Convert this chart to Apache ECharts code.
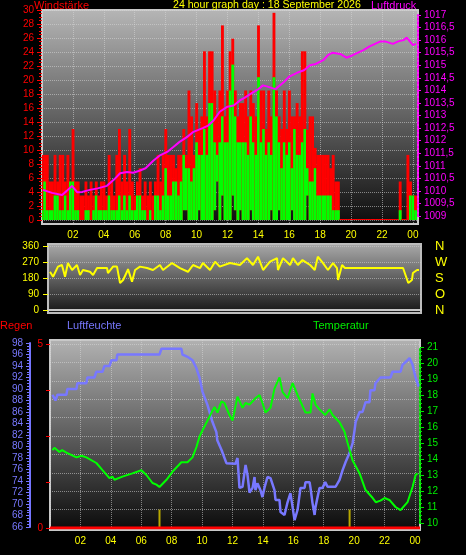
<!DOCTYPE html>
<html><head><meta charset="utf-8">
<script src="https://cdn.jsdelivr.net/npm/echarts@6/dist/echarts.min.js"></script>
<style>html,body{margin:0;padding:0;background:#000;}#c{width:466px;height:555px;}</style>
</head><body><div id="c"></div>
<script>
// ---------- data ----------
const xLabels = ['', '02', '04', '06', '08', '10', '12', '14', '16', '18', '20', '22', '00'];
const windStepMin = 10; // wind samples every 10 minutes from 00:00
const gust = [
  9.3, 9.3, 9.3, 5.5, 5.5, 9.3,
  5.5, 9.3, 9.3, 5.5, 9.3, 5.5,
  13, 5.5, 5.5, 3.5, 3.5, 5.5,
  3.5, 5.5, 3.5, 5.5, 3.5, 5.5,
  5.5, 3.5, 9.3, 5.5, 3.5, 9.3,
  13, 5.5, 9.3, 5.5, 13, 5.5,
  3.5, 5.5, 7.4, 3.5, 5.5, 3.5,
  5.5, 3.5, 5.5, 9.3, 5.5, 9.3,
  13, 9.3, 9.3, 9.3, 7.4, 9.3,
  9.3, 13, 9.3, 18.5, 14.8, 9.3,
  16.7, 13, 14.8, 24.1, 14.8, 24.1,
  24.1, 18.5, 14.8, 18.5, 27.8, 14.8,
  18.5, 24.1, 25.9, 18.5, 14.8, 16.7,
  16.7, 18.5, 14.8, 18.5, 16.7, 14.8,
  27.8, 18.5, 18.5, 13, 18.5, 14.8,
  29.6, 18.5, 14.8, 13, 18.5, 13,
  18.5, 14.8, 14.8, 16.7, 14.8, 24.1,
  24.1, 12.9, 14.8, 14.8, 10.3, 9.3,
  9.3, 9.3, 9.3, 9.3, 7.4, 9.3,
  5.5, 5.5, 0, 0, 0, 0,
  0, 0, 0, 0, 0, 0,
  0, 0, 0, 0, 0, 0,
  0, 0, 0, 0, 0, 0,
  0, 5.5, 0, 0, 9.3, 5.5,
  3.5, 3.5
];
const avg = [
  1.4, 5.5, 1.4, 1.4, 1.4, 3.5,
  3.5, 1.4, 1.4, 3.5, 1.4, 5.5,
  5.5, 1.4, 1.4, 0, 0, 1.4,
  1.4, 0, 1.4, 3.5, 1.4, 1.4,
  1.4, 1.4, 3.5, 1.4, 1.4, 1.4,
  3.5, 1.4, 3.5, 1.4, 3.5, 1.4,
  1.4, 3.5, 3.5, 1.4, 1.4, 0,
  1.4, 0, 3.5, 3.5, 1.4, 3.5,
  7.4, 3.5, 3.5, 5.5, 5.5, 3.5,
  5.5, 9.3, 7.4, 7.4, 5.5, 7.4,
  11.1, 9.3, 9.3, 13, 9.3, 16.7,
  16.7, 11.1, 9.3, 11.1, 14.8, 11.1,
  11.1, 18.5, 22.2, 14.8, 11.1, 11.1,
  11.1, 11.1, 9.3, 14.8, 11.1, 9.3,
  20.4, 11.1, 13, 9.3, 11.1, 9.3,
  20.4, 14.8, 11.1, 7.4, 11.1, 9.3,
  11.1, 7.4, 13, 9.3, 9.3, 11.1,
  13, 7.4, 5.5, 5.5, 7.4, 3.5,
  3.5, 3.5, 3.5, 3.5, 3.5, 1.4,
  1.4, 1.4, 0, 0, 0, 0,
  0, 0, 0, 0, 0, 0,
  0, 0, 0, 0, 0, 0,
  0, 0, 0, 0, 0, 0,
  0, 1.4, 0, 0, 0, 3.5,
  3.5, 1.4
];
const low = [
  0,0,0,0,0,0, 0,0,0,0,0,0, 0,0,0,0,0,0, 0,0,0,0,0,0,
  0,0,0,0,0,0, 0,0,0,0,0,0, 0,0,0,0,0,0, 0,0,0,0,0,0,
  0,0,0,0,0,0,
  0, 1.4, 1.4, 0, 0, 0,
  0, 1.4, 0, 0, 0, 0,
  0, 1.4, 5.5, 0, 3.5, 0,
  0, 0, 3.5, 1.4, 0, 1.4,
  0, 0, 0, 1.4, 0, 0,
  0, 0, 0, 0, 0, 1.4,
  0, 0, 1.4, 0, 0, 0,
  0, 1.4, 0, 0, 0, 0,
  0, 3.5, 0, 0, 0, 0,
  0,0,0,0,0,0, 0,0,0,0,0,0, 0,0,0,0,0,0, 0,0,0,0,0,0,
  0,0,0,0,0,0, 0,0,0,0,0,0, 0,0
];
const pressTimes = [0.06,0.65,1.3,1.6,1.94,2.27,2.6,3.1,3.6,4.2,4.66,5.05,5.5,5.9,6.3,6.7,7.2,7.6,8.1,8.5,8.9,9.4,9.8,10.4,10.75,11.1,11.5,12.0,12.4,12.5,12.8,13.1,13.6,14.0,14.3,14.6,15.1,15.6,16.0,16.5,16.95,17.35,17.7,18.2,18.5,18.8,19.3,19.7,20.1,20.45,20.8,21.2,21.55,21.9,22.2,22.7,23.05,23.4,23.6,23.8,24.0,24.2];
const pressVals = [1010.04,1009.92,1009.84,1010.0,1010.2,1009.95,1009.96,1010.04,1010.1,1010.2,1010.45,1010.7,1010.75,1010.72,1010.8,1010.9,1011.2,1011.4,1011.55,1011.75,1011.95,1012.15,1012.35,1012.5,1012.6,1012.8,1013.15,1013.35,1013.4,1013.35,1013.6,1013.7,1013.9,1014.05,1014.2,1014.15,1014.05,1014.3,1014.55,1014.7,1014.8,1015.0,1015.05,1015.2,1015.4,1015.5,1015.45,1015.3,1015.4,1015.5,1015.6,1015.75,1015.85,1015.95,1015.95,1015.85,1015.95,1016.0,1016.1,1015.95,1015.8,1015.85];
const dirTimes = [0.13,0.33,0.65,0.91,1.11,1.3,1.57,1.89,2.09,2.28,2.74,2.94,3.2,3.85,3.91,4.24,4.5,4.7,4.9,5.15,5.22,5.48,5.68,6.0,6.46,6.85,7.3,7.5,8.09,8.61,9.13,9.46,9.92,10.1,10.57,10.9,11.2,11.87,12.52,12.98,13.37,13.7,14.03,14.48,14.94,15.0,15.33,15.79,15.98,16.3,16.6,17.1,17.4,17.6,17.94,18.26,18.59,18.85,18.92,19.18,19.37,23.16,23.5,23.74,23.8,24.07,24.2];
const dirVals = [215,187,244,253,187,264,225,253,197,225,215,197,236,236,208,244,244,152,169,215,230,159,225,244,236,225,253,225,264,236,215,253,236,264,225,272,244,264,253,292,253,300,225,272,292,225,292,253,292,253,281,253,225,300,264,225,264,236,169,253,236,236,152,169,208,225,225];
const humTimes = [0.16,0.36,0.49,1.08,1.14,1.74,1.8,2.39,2.46,2.92,3.05,3.45,3.58,3.91,4.04,4.37,4.43,7.2,7.33,8.64,8.71,9.04,9.37,9.63,9.83,10.03,10.36,10.68,10.94,11.0,11.28,11.6,12.2,12.33,12.46,12.66,12.86,12.99,13.12,13.32,13.45,13.51,13.64,13.84,13.97,14.1,14.3,14.5,14.76,14.83,15.09,15.16,15.42,15.62,15.81,15.95,16.08,16.28,16.47,16.74,16.8,17.07,17.13,17.26,17.4,17.46,17.72,17.92,18.1,18.25,18.78,19.04,19.24,19.44,19.7,19.9,20.03,20.1,20.36,20.55,20.75,21.01,21.07,21.34,21.4,21.73,22.39,22.52,23.05,23.18,23.51,23.64,23.84,24.04,24.24];
const humVals = [89,88,89,89,90,90,91,91,92,92,93,93,94,94,95,95,96,96,97,97,96,95.6,95,93.6,92,89.5,87.2,84.3,82.5,81.1,79.4,77.1,77,78,72.8,73,76.8,75,72,72.8,74.7,72.4,73.6,72.4,71.2,72.8,74.7,74.5,72.4,70.7,70.7,68.6,68.1,70.3,71.9,69.5,67.2,69,72.8,72.8,73.8,73.8,72.8,70.2,68.1,69.5,72.8,72.8,73.8,73,73,74.2,75.9,77.3,78.9,80.6,82.9,84.3,86,86,87.7,87.7,89.8,89.8,91,92,92,93,93,94.2,95,95.4,94.2,92,90.4];
const tempTimes = [0.16,0.29,0.62,0.8,1.08,1.74,2.07,2.39,3.05,3.45,3.91,4.1,4.24,4.76,5.42,6.01,6.34,6.74,7.0,7.2,7.66,8.05,8.64,9.04,9.37,9.63,9.83,10.03,10.3,10.62,10.82,11.01,11.28,11.47,11.8,12.0,12.33,12.66,12.86,13.12,13.51,13.78,13.97,14.17,14.5,14.76,15.09,15.29,15.62,15.95,16.28,16.8,17.13,17.26,17.46,17.72,18.1,18.38,18.58,19.04,19.37,19.57,19.9,20.36,20.75,21.22,21.42,21.73,22.0,22.32,22.72,23.05,23.51,23.84,24.04,24.17];
const tempVals = [14.56,14.7,14.44,14.55,14.4,14.1,14.2,14.1,13.75,13.3,12.8,12.9,12.7,12.9,13.1,13.3,13.0,12.5,12.4,12.25,12.7,13.2,13.8,13.8,14.1,14.75,15.4,15.8,16.3,16.9,17.25,16.9,17.6,17.5,16.75,16.4,17.9,17.2,17.5,17.4,17.8,18.0,17.5,16.9,17.2,18.4,19.1,18.2,17.8,18.75,18.0,16.9,16.9,18.1,17.4,17.1,16.75,17.1,16.75,16.3,15.7,15.0,13.9,13.1,12.06,11.56,11.3,11.4,11.56,11.44,11.0,10.8,11.3,12.25,13.0,13.1];
const rainTimes = [0, 6, 12, 18, 24.33];
const rainVals = [0, 0, 0, 0, 0];
const sunTimes = [7.2, 19.7];   // sunrise / sunset markers
const sunVals = [1, 1];

// ---------- chart ----------
const FONT = '"Liberation Sans", Arial, sans-serif';
const XMAX = 24.33;
const pairs = (t, v) => t.map((x, i) => [x, v[i]]);
const grad = (a, b) => new echarts.graphic.LinearGradient(0, 0, 0, 1, [{offset: 0, color: a}, {offset: 1, color: b}]);
const xlab = v => { const k = Math.round(v / 2); return Math.abs(v - 2 * k) < 1e-6 ? (xLabels[k] || '') : ''; };
const dotted = {color: 'rgba(215,215,215,0.55)', type: 'dotted', width: 1};

const grids = [
  {left: 42, width: 376, top: 10, height: 214, show: true, backgroundColor: grad('#b6b6b6', '#0c0c0c'), borderColor: '#c8c8c8', borderWidth: 2}, // 0 top bg
  {left: 42, width: 376, top: 10, height: 210}, // 1 wind
  {left: 42, width: 376, top: 15, height: 201}, // 2 pressure
  {left: 48, width: 373, top: 244, height: 69, show: true, backgroundColor: grad('#ababab', '#141414'), borderColor: '#bdbdbd', borderWidth: 2}, // 3 mid bg
  {left: 48, width: 373, top: 246, height: 64}, // 4 direction
  {left: 50, width: 370, top: 340, height: 190, show: true, backgroundColor: grad('#b2b2b2', '#0a0a0a'), borderColor: '#c8c8c8', borderWidth: 2}, // 5 bottom bg
  {left: 50, width: 370, top: 343, height: 184}, // 6 humidity data
  {left: 50, width: 370, top: 344, height: 184}, // 7 rain + grid lines
  {left: 50, width: 370, top: 347, height: 176}, // 8 temperature
  {left: 30, width: 1, top: 343, height: 184}    // 9 humidity scale (axis only)
];
const xAxes = grids.map((g, i) => ({
  gridIndex: i, type: 'value', min: 0, max: XMAX, interval: 2,
  show: i === 0 || i === 5 || i === 4,
  axisLine: {show: true, onZero: false, lineStyle: {color: '#c8c8c8', width: 2}},
  axisTick: {show: false},
  axisLabel: {show: i === 0 || i === 5, color: '#ffff00', fontSize: 10, fontFamily: FONT, margin: 6, formatter: xlab},
  splitLine: {show: i === 0 || i === 5, lineStyle: dotted}
}));
const yAxes = [
  {gridIndex: 0, type: 'value', show: false},                                   // 0
  {gridIndex: 1, type: 'value', position: 'left', min: 0, max: 30, interval: 2, // 1 wind
    axisLine: {show: false, onZero: false}, axisTick: {show: true, length: 5, lineStyle: {color: '#ff0000'}},
    minorTick: {show: true, splitNumber: 4, length: 3, lineStyle: {color: '#ff0000'}},
    axisLabel: {color: '#ff0000', fontSize: 10, fontFamily: FONT, margin: 8},
    splitLine: {show: true, lineStyle: dotted}},
  {gridIndex: 2, type: 'value', position: 'right', min: 1009, max: 1017, interval: 0.5,  // 2 pressure
    axisLine: {show: true, onZero: false, lineStyle: {color: '#ff00ff', width: 2, type: 'dotted'}},
    axisTick: {show: true, length: 3, lineStyle: {color: '#ff00ff'}},
    axisLabel: {color: '#ff00ff', fontSize: 10, fontFamily: FONT, margin: 6, formatter: v => String(v).replace('.', ',')},
    splitLine: {show: false}},
  {gridIndex: 3, type: 'value', show: false},                                   // 3
  {gridIndex: 4, type: 'value', position: 'left', min: 0, max: 360, interval: 90, // 4 direction
    axisLine: {show: false, onZero: false}, axisTick: {show: true, length: 5, lineStyle: {color: '#ffff00'}},
    axisLabel: {color: '#ffff00', fontSize: 10, fontFamily: FONT, margin: 9},
    splitLine: {show: true, lineStyle: {color: 'rgba(210,210,210,0.55)', type: 'dotted'}}},
  {gridIndex: 4, type: 'value', position: 'right', min: 0, max: 360, interval: 90,  // 5 compass
    axisLine: {show: false, onZero: false}, axisTick: {show: false}, splitLine: {show: false},
    axisLabel: {color: '#ffff00', fontSize: 13, fontFamily: FONT, margin: 14,
      formatter: v => ({0: 'N', 90: 'O', 180: 'S', 270: 'W', 360: 'N'})[v] || ''}},
  {gridIndex: 5, type: 'value', show: false},                                   // 6
  {gridIndex: 6, type: 'value', min: 66, max: 98, show: false},                 // 7 humidity (data)
  {gridIndex: 7, type: 'value', position: 'right', min: 0, max: 10, interval: 1, show: true, // 8 grid lines
    axisLine: {show: false, onZero: false}, axisTick: {show: false}, axisLabel: {show: false},
    splitLine: {show: true, lineStyle: dotted}},
  {gridIndex: 7, type: 'value', position: 'left', min: 0, max: 5, interval: 1.25, // 9 rain
    axisLine: {show: false, onZero: false}, axisTick: {show: true, length: 4, lineStyle: {color: '#ff0000'}},
    axisLabel: {color: '#ff0000', fontSize: 10, fontFamily: FONT, margin: 7, formatter: v => (v === 0 || v === 5) ? String(v) : ''},
    splitLine: {show: false}},
  {gridIndex: 8, type: 'value', position: 'right', min: 10, max: 21, interval: 1,  // 10 temperature
    axisLine: {show: true, onZero: false, lineStyle: {color: '#00e000', width: 2, type: 'dotted'}},
    axisTick: {show: true, length: 4, lineStyle: {color: '#00e000'}},
    minorTick: {show: true, splitNumber: 4, length: 2, lineStyle: {color: '#00e000'}},
    axisLabel: {color: '#00ee00', fontSize: 10, fontFamily: FONT, margin: 7},
    splitLine: {show: false}},
  {gridIndex: 9, type: 'value', position: 'left', min: 66, max: 98, interval: 2,  // 11 humidity scale
    axisLine: {show: true, onZero: false, lineStyle: {color: '#7575ff', width: 2}},
    axisTick: {show: true, length: 4, lineStyle: {color: '#7575ff'}},
    minorTick: {show: true, splitNumber: 4, length: 3, lineStyle: {color: '#7575ff'}},
    axisLabel: {color: '#7878ff', fontSize: 10, fontFamily: FONT, margin: 7},
    splitLine: {show: false}}
];

const windData = gust.map((g, i) => [i * windStepMin / 60, low[i], avg[i], g]);

const option = {
  backgroundColor: '#000',
  animation: false,
  title: [
    {text: 'Windstärke', left: 34, top: 0, textStyle: {color: '#ff0000'}},
    {text: '24 hour graph day : 18 September 2026', left: 173, top: 0, textStyle: {color: '#ffff00', fontSize: 10.6}},
    {text: 'Luftdruck', left: 371, top: 0, textStyle: {color: '#ff00ff'}},
    {text: 'Regen', left: 0, top: 320, textStyle: {color: '#ff0000'}},
    {text: 'Luftfeuchte', left: 67, top: 320, textStyle: {color: '#7878ff'}},
    {text: 'Temperatur', left: 313, top: 320, textStyle: {color: '#00ee00'}}
  ].map(t => ({text: t.text, left: t.left, top: t.top, padding: 0,
    textStyle: Object.assign({fontSize: 11, fontWeight: 'normal', fontFamily: FONT}, t.textStyle)})),
  grid: grids,
  xAxis: xAxes,
  yAxis: yAxes,
  series: [
    {type: 'custom', xAxisIndex: 1, yAxisIndex: 1, clip: true, data: windData,
      renderItem: (params, api) => {
        const t = api.value(0), lo = api.value(1), av = api.value(2), gu = api.value(3);
        const w = api.size([windStepMin / 60, 0])[0];
        const x = api.coord([t, 0])[0] - w / 2;
        const y0 = api.coord([t, 0])[1];
        const yl = api.coord([t, lo])[1];
        const yg = api.coord([t, gu])[1];
        const ya = api.coord([t, av])[1];
        const redBottom = lo > 0 ? yl : y0 + 1;
        const redTop = Math.min(yg, redBottom - 2);
        const greenBottom = lo > 0 ? yl : y0 + 4;
        const greenTop = Math.min(ya, greenBottom - 2);
        return {type: 'group', children: [
          {type: 'rect', shape: {x: x, y: redTop, width: w + 0.3, height: redBottom - redTop}, style: {fill: '#ff0000'}},
          {type: 'rect', shape: {x: x, y: greenTop, width: w + 0.3, height: greenBottom - greenTop}, style: {fill: '#00ff00'}}
        ]};
      }},
    {type: 'line', xAxisIndex: 2, yAxisIndex: 2, data: pairs(pressTimes, pressVals), showSymbol: false,
      lineStyle: {color: '#ff00ff', width: 2}},
    {type: 'line', xAxisIndex: 4, yAxisIndex: 4, data: pairs(dirTimes, dirVals), showSymbol: false,
      lineStyle: {color: '#ffff00', width: 2}},
    {type: 'bar', xAxisIndex: 7, yAxisIndex: 8, data: pairs(sunTimes, sunVals), barWidth: 2,
      itemStyle: {color: '#b8a800'}},
    {type: 'line', xAxisIndex: 7, yAxisIndex: 9, data: pairs(rainTimes, rainVals), showSymbol: false,
      lineStyle: {color: '#ff0000', width: 3}},
    {type: 'line', xAxisIndex: 6, yAxisIndex: 7, data: pairs(humTimes, humVals), showSymbol: false,
      lineStyle: {color: '#7878ff', width: 2.5}},
    {type: 'line', xAxisIndex: 8, yAxisIndex: 10, data: pairs(tempTimes, tempVals), showSymbol: false,
      lineStyle: {color: '#00ff00', width: 2}}
  ]
};
const chart = echarts.init(document.getElementById('c'), null, {renderer: 'canvas'});
chart.setOption(option);
</script></body></html>
